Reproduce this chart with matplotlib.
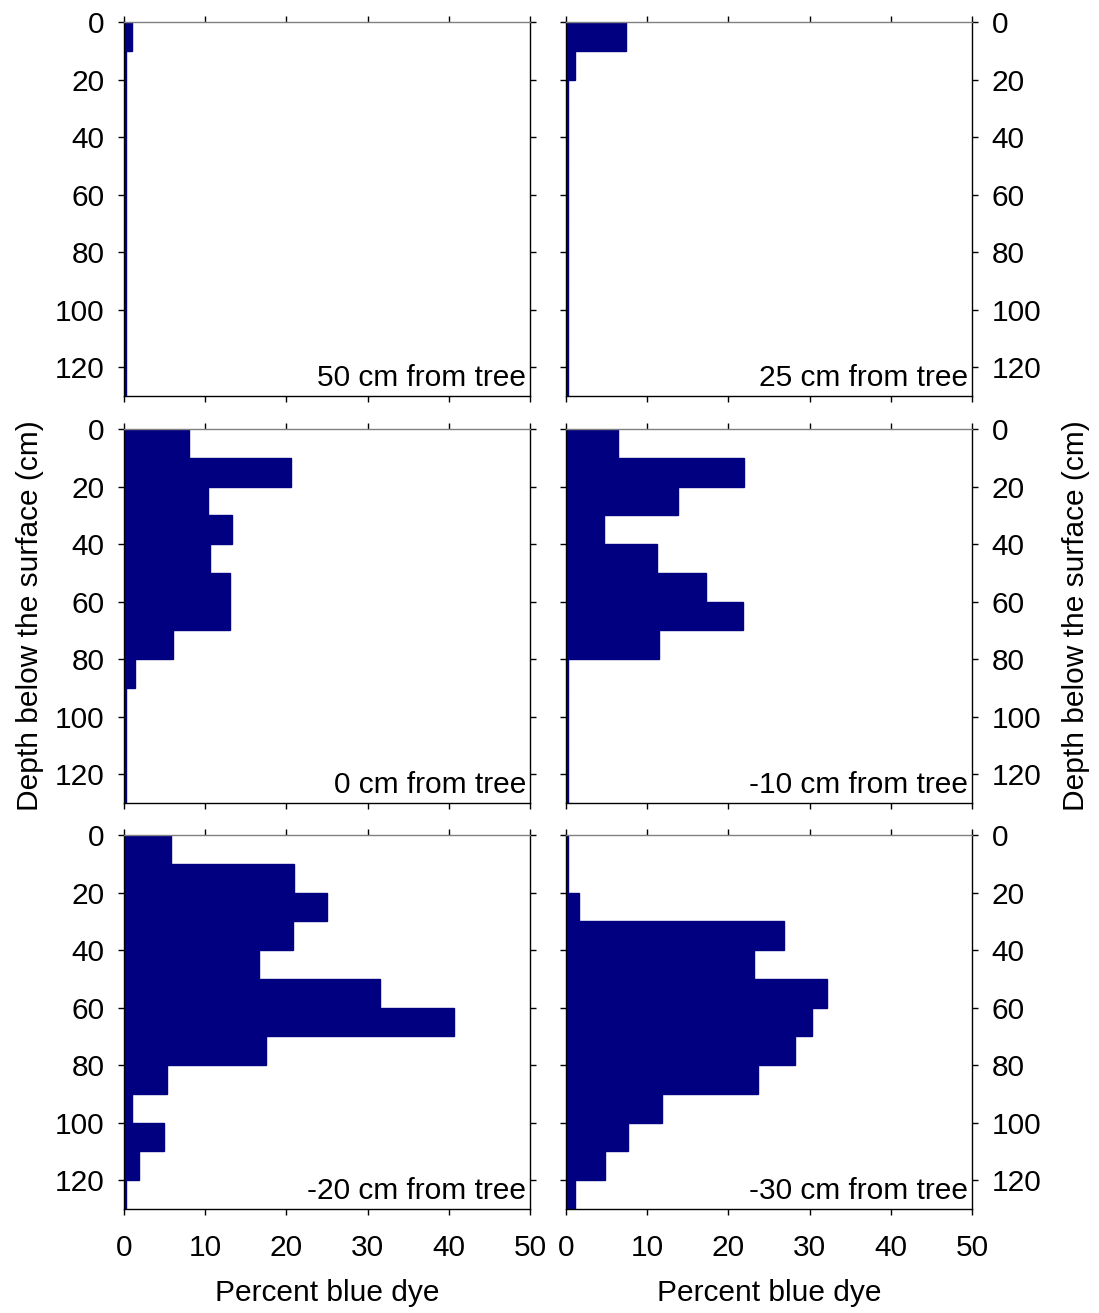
import matplotlib.pyplot as plt
import numpy as np

plt.rcParams['font.family'] = ['Liberation Sans', 'DejaVu Sans']

# depth bins (top of each 10 cm layer)
depth = [0, 10, 20, 30, 40, 50, 60, 70, 80, 90, 100, 110, 120]

# percent blue dye per layer, one list per distance from tree
d50 = [1.0, 0.2, 0.2, 0.2, 0.2, 0.2, 0.2, 0.2, 0.2, 0.2, 0.2, 0.2, 0.2]
d25 = [7.35, 1.1, 0.2, 0.2, 0.2, 0.2, 0.2, 0.2, 0.2, 0.2, 0.2, 0.2, 0.2]
d0 = [8.0, 20.6, 10.3, 13.3, 10.6, 13.1, 13.1, 6.0, 1.35, 0.2, 0.2, 0.2, 0.2]
dm10 = [6.4, 21.9, 13.8, 4.7, 11.2, 17.2, 21.8, 11.4, 0.2, 0.2, 0.2, 0.2, 0.2]
dm20 = [5.8, 20.9, 24.95, 20.85, 16.6, 31.5, 40.7, 17.5, 5.25, 0.95, 4.9, 1.8, 0.3]
dm30 = [0.3, 0.3, 1.6, 26.9, 23.2, 32.1, 30.3, 28.2, 23.6, 11.8, 7.6, 4.8, 1.1]

series = [d50, d25, d0, dm10, dm20, dm30]
labels = ['50 cm from tree', '25 cm from tree', '0 cm from tree',
          '-10 cm from tree', '-20 cm from tree', '-30 cm from tree']

navy = '#000080'
fs = 21.5

fig = plt.figure(figsize=(10.99, 13.13), dpi=100)

W, H = 1099, 1313
lefts = [124, 566]
tops = [22, 429, 835]
aw, ah = 406, 374

for i in range(6):
    r, c = i // 2, i % 2
    ax = fig.add_axes([lefts[c] / W, 1 - (tops[r] + ah) / H, aw / W, ah / H])
    ax.barh(depth, series[i], height=10, align='edge', color=navy,
            edgecolor=navy, linewidth=1)
    ax.set_xlim(0, 50)
    ax.set_ylim(130, 0)
    ax.set_xticks([0, 10, 20, 30, 40, 50])
    ax.set_yticks([0, 20, 40, 60, 80, 100, 120])
    ax.tick_params(direction='out', length=4, width=1, labelsize=fs,
                   top=True, bottom=True, left=True, right=True,
                   labeltop=False)
    ax.tick_params(axis='x', pad=14)
    ax.tick_params(axis='y', pad=10)
    for s in ['left', 'right', 'bottom']:
        ax.spines[s].set_color('black')
        ax.spines[s].set_linewidth(1)
    ax.spines['top'].set_color('#808080')
    ax.spines['top'].set_linewidth(1)

    if c == 1:
        ax.yaxis.tick_right()
        ax.yaxis.set_ticks_position('both')
        ax.tick_params(axis='y', labelleft=False, labelright=True)
        ax.yaxis.set_label_position('right')
    if r < 2:
        ax.tick_params(axis='x', labelbottom=False)
    else:
        ax.set_xlabel('Percent blue dye', fontsize=fs, labelpad=12)
    if r == 1:
        ax.set_ylabel('Depth below the surface (cm)', fontsize=fs,
                      labelpad=8 if c == 0 else 15)

    ax.text(0.99, 0.028, labels[i], transform=ax.transAxes, ha='right',
            va='baseline', fontsize=fs)

fig.savefig('out.png', dpi=100)
